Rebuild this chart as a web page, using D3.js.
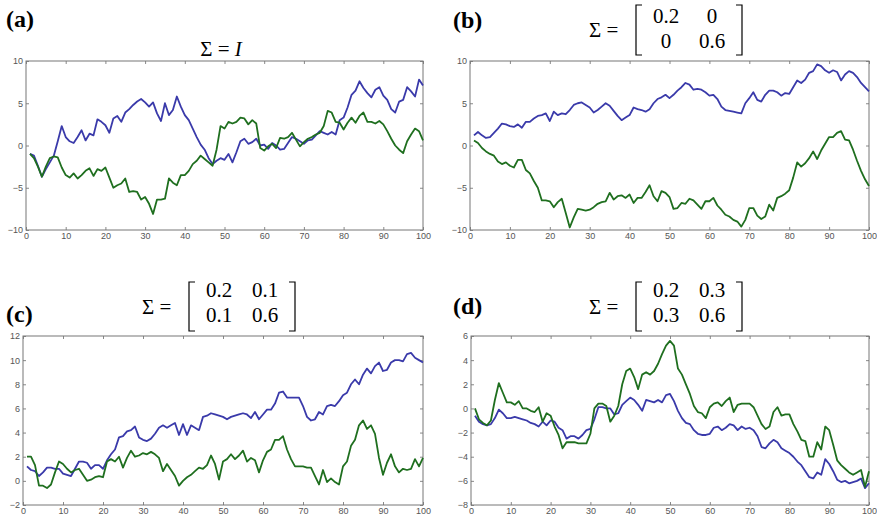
<!DOCTYPE html>
<html>
<head>
<meta charset="utf-8">
<script src="https://cdn.jsdelivr.net/npm/d3@7"></script>
<style>
  body { margin: 0; background: #fff; }
  .tick text { font-family: "Liberation Sans", Arial, sans-serif; font-size: 9px; fill: #555; }
  .tick line { stroke: #888; }
</style>
</head>
<body>
<script>
// time steps 1..100
const steps = d3.range(1, 101);
const xTicks = [0, 10, 20, 30, 40, 50, 60, 70, 80, 90, 100];

// (a) Sigma = I
const blueA = [-1,-1.2,-2.4,-3.7,-2.8,-2,-1.2,0.5,2.3,1,0.5,0.3,1,1.8,0.6,1.4,1.2,3.1,2.8,2.4,
  1.5,3.2,3.5,2.8,3.9,4.3,4.8,5.2,5.5,5.1,4.6,5.1,3.8,2.9,5,3.6,4.2,5.8,4.6,3.6,
  3,2,1,0.1,-0.5,-1.5,-2.2,-1.8,-1.5,-1.7,-1,-2,-0.8,0.5,0.8,0.2,0.4,0.8,0,0.1,
  -0.4,0.3,0,-0.5,-0.4,0.3,1,0.8,0.5,0.2,0.6,0.7,1.2,1.7,1.5,1.3,1.6,1.3,3,3.3,
  4.5,6,6.5,7.6,6.8,6.2,5.7,6.6,6.9,5.9,5.4,4.3,3.9,5.2,5.4,6.9,6.4,5.8,7.8,7.1];
const greenA = [-1,-1.5,-2.5,-3.7,-2.5,-1.5,-1.3,-1.4,-2.6,-3.5,-3.8,-3.3,-3.9,-3.5,-3,-2.7,-3.6,-2.8,-3,-2.6,
  -3.8,-5,-4.7,-4.5,-3.9,-5.5,-5.4,-5.5,-6.4,-6.1,-6.9,-8.1,-6.4,-6.4,-6.3,-3.9,-4.4,-4.7,-3.5,-3.5,
  -3,-2.2,-1.8,-1.2,-1.6,-2,-2.4,-0.5,2.3,2,2.8,2.6,2.8,3.3,3.2,2.5,3,2.6,-0.3,-0.6,
  -0.1,0.2,-0.3,0.9,0.8,1,1.5,0.7,-0.1,0.4,0.8,1,1.3,1.5,2.3,4.1,3.9,2.8,2.7,1.9,
  2.7,3.3,2.7,3.5,3.9,2.8,2.8,2.6,2.9,2.5,1.7,0.8,0,-0.5,-0.9,0.5,1.3,2,1.7,0.6];

// (b) Sigma = [0.2 0; 0 0.6]
const blueB = [1.2,1.6,1.2,0.9,1,1.5,2,2.6,2.5,2.3,2.2,2.5,2.1,2.8,2.8,3.2,3.5,3.6,3.8,2.9,
  4,3.6,3.8,3.7,4.2,4.8,5,5.1,4.8,4.5,3.9,4.2,4.6,5,4.7,4.1,3.5,3,3.3,3.6,
  4.5,4.3,4.2,4,4.3,5,5.5,5.7,6,5.6,6,6.5,6.9,7.4,7.2,6.6,6.7,6.6,6.3,5.9,
  6,5.5,4.6,4.2,4.1,4,3.9,3.8,5,5.6,6.3,5.4,5.2,6,6.5,6.5,6.3,5.9,6.2,6.1,
  6.9,7.7,7.4,7.8,8.6,8.8,9.6,9.4,8.9,8.6,8.9,8.7,7.7,8.4,8.8,8.6,8.1,7.4,6.9,6.4];
const greenB = [0.6,0.3,-0.3,-0.7,-1,-1.2,-1.9,-2.2,-2,-2.4,-2.6,-1.7,-1.7,-2.9,-3.3,-4.2,-5,-6.5,-6.5,-6.6,
  -7.3,-6.7,-6.3,-8,-9.7,-8.5,-7.5,-7.6,-7.7,-7.6,-7.3,-6.9,-6.7,-6.6,-5.6,-6.4,-6,-5.9,-6.2,-5.8,
  -6.8,-6.2,-6.2,-5.5,-4.7,-6,-6.6,-5.4,-5.6,-6.1,-7.5,-7.4,-6.8,-6.9,-6.3,-6.5,-7,-7.5,-6.6,-6.6,
  -6.2,-7.1,-7.6,-8.2,-8.4,-8.8,-9,-9.6,-8.8,-7.4,-7.4,-8.3,-8.7,-8.4,-7,-7.7,-6.2,-6,-5.7,-5.3,
  -3.8,-2,-2.5,-2.1,-1.5,-0.7,-1.6,-0.6,0.2,1,1,1.5,1.7,0.7,0.6,-0.5,-1.8,-3,-4,-4.8];

// (c) Sigma = [0.2 0.1; 0.1 0.6]
const blueC = [1.2,0.9,0.8,0.4,0.7,1.1,1.1,1,1,0.6,0.5,0.4,1,1.6,1.6,1.5,1,1.3,1.3,1,
  1.7,2.2,2.6,3.6,3.7,4.1,4.2,4.5,3.6,3.4,3.3,3.5,3.9,4.4,4.6,4.4,4.6,4.8,3.8,4.7,
  3.8,4.6,4.4,4.2,5.3,5.4,5.6,5.5,5.4,5.3,5.1,5.3,5.4,5.5,5.6,5.5,5.2,5.7,5.1,5.5,
  5.9,5.9,6.4,7.3,7.4,6.9,6.9,6.9,6.9,6.2,5.3,5,5.1,5.7,5.5,6.2,6.3,6.2,6.6,7.1,
  7.3,8,8.4,8,8.8,9.3,8.9,9.5,9.8,9.1,9.2,9.8,10,10,9.9,10.5,10.6,10.2,10,9.8];
const greenC = [2,2,1.3,-0.4,-0.4,-0.6,-0.3,0.7,1.6,1.4,1,0.7,0.9,1,0.5,0,0.1,0.3,0.4,0.3,
  1.6,1.8,1.6,2,1.1,1.9,2.5,2,2.1,2.3,2.2,2.4,2.2,1.9,0.8,1.4,0.9,0.4,-0.4,0,
  0.3,0.5,0.8,1.1,1,1.3,2.1,1.4,0.1,1.6,1.8,2.2,1.8,2.1,2.5,1.6,1.9,1.7,0.7,1.7,
  2.4,2.6,3.4,3.4,3.7,2.6,1.8,1.2,1.2,1.2,1.1,1.1,0.4,-0.3,0.9,-0.1,0.2,-0.1,-0.3,1.2,
  1.6,2.9,3.4,4.6,5,4.3,4.6,3.9,1.9,0.5,1.5,2.2,1.2,0.7,1,0.9,1,1.8,1.2,1.9];

// (d) Sigma = [0.2 0.3; 0.3 0.6]
const blueD = [-0.6,-1.1,-1.3,-1.4,-1.3,-0.8,-0.1,-0.4,-0.8,-0.8,-0.7,-0.8,-0.9,-1,-1.2,-1.3,-1.5,-1.1,-1.4,-1,
  -1.1,-1.6,-1.8,-2.5,-2.3,-2.3,-2.5,-2.2,-1.8,-1.7,-0.9,0.1,0.1,0,0,-0.5,-0.4,0.3,0.6,0.9,
  0.7,0.3,-0.2,0.7,0.6,0.5,0.7,0.5,1.1,1.2,0.6,-0.2,-0.8,-1.2,-1.3,-1.8,-2.1,-2.2,-2.2,-2.1,
  -1.6,-1.5,-1.8,-1.6,-1.3,-1.4,-1.8,-1.5,-1.7,-1.6,-1.8,-2.3,-3.2,-3.3,-2.9,-2.6,-2.8,-3.3,-3.5,-3.7,
  -4,-4.4,-4.7,-5.2,-5.7,-5.8,-5.3,-5.5,-4.2,-4.6,-5.2,-5.9,-6.1,-6,-6.2,-6.1,-6,-5.8,-6.6,-6.2];
const greenD = [0,-0.9,-1.2,-1.4,-1,0.7,2.1,1.3,0.5,0.5,0.3,0.6,0,0,-0.2,-0.3,0.1,-1.1,-0.4,-0.6,
  -1.5,-2.2,-3.3,-2.8,-2.8,-2.8,-2.9,-2.9,-2.9,-2.1,0,0.4,0.4,0.2,-1.1,-0.6,0.2,2,3.1,3.3,
  2.6,1.6,2.8,3,2.8,3.1,3.7,4.5,5.2,5.6,5.2,3.3,2.8,2,1.2,0.2,-0.3,-0.4,-0.8,0.1,
  0.4,0.5,0.2,0.6,0.9,-0.3,0.3,0.4,0.4,0.4,0.1,-0.6,-1.3,-1.7,-1.5,-0.3,0.1,-0.6,-0.5,-0.5,
  -1.3,-1.9,-2.6,-2.7,-4,-4,-2.8,-3.4,-1.5,-1.8,-3,-4.3,-4.7,-5,-5.3,-5.5,-5.3,-5.1,-6.5,-5.2];

const yTicksAB = [-10, -5, 0, 5, 10];
const yTicksC = [-2, 0, 2, 4, 6, 8, 10, 12];
const yTicksD = [-8, -6, -4, -2, 0, 2, 4, 6];

const matrixB = [["0.2", "0"], ["0", "0.6"]];
const matrixC = [["0.2", "0.1"], ["0.1", "0.6"]];
const matrixD = [["0.2", "0.3"], ["0.3", "0.6"]];

const blue = '#3a3aaa';
const green = '#1f6f1f';
const serif = '"Liberation Serif", "DejaVu Serif", serif';
const titleSize = '21px';

const panels = [
    { tag: '(a)', box: [26, 61, 423, 230], yDom: [-10, 10], yTicks: yTicksAB, b: blueA, g: greenA,
      label: [6, 27], title: { x: 221, y: 56 }, matrix: null },
    { tag: '(b)', box: [470, 61, 869, 230], yDom: [-10, 10], yTicks: yTicksAB, b: blueB, g: greenB,
      label: [453, 28], title: { x: 589, top: 5, bottom: 55, rows: [23, 48] }, matrix: matrixB },
    { tag: '(c)', box: [23, 336, 423, 505], yDom: [-2, 12], yTicks: yTicksC, b: blueC, g: greenC,
      label: [6, 322], title: { x: 142, top: 282, bottom: 331, rows: [297, 322] }, matrix: matrixC },
    { tag: '(d)', box: [471, 336, 869, 505], yDom: [-8, 6], yTicks: yTicksD, b: blueD, g: greenD,
      label: [453, 314], title: { x: 589, top: 282, bottom: 331, rows: [297, 322] }, matrix: matrixD }
];

const svg = d3.select('body').append('svg')
    .attr('width', 877)
    .attr('height', 521);

panels.forEach(p => {
    const [x0, y0, x1, y1] = p.box;
    const x = d3.scaleLinear().domain([0, 100]).range([x0, x1]);
    const y = d3.scaleLinear().domain(p.yDom).range([y1, y0]);

    const g = svg.append('g');

    // inward ticks on all four sides, labels only bottom and left
    g.append('g').attr('transform', `translate(0,${y1})`)
        .call(d3.axisBottom(x).tickValues(xTicks).tickSize(-3).tickPadding(3));
    g.append('g').attr('transform', `translate(0,${y0})`)
        .call(d3.axisTop(x).tickValues(xTicks).tickSize(-3).tickFormat(''));
    g.append('g').attr('transform', `translate(${x0},0)`)
        .call(d3.axisLeft(y).tickValues(p.yTicks).tickSize(-3).tickPadding(3));
    g.append('g').attr('transform', `translate(${x1},0)`)
        .call(d3.axisRight(y).tickValues(p.yTicks).tickSize(-3).tickFormat(''));
    g.selectAll('.domain').remove();

    g.append('rect')
        .attr('x', x0).attr('y', y0)
        .attr('width', x1 - x0).attr('height', y1 - y0)
        .attr('fill', 'none').attr('stroke', '#777').attr('stroke-width', 1);

    const line = vals => d3.line()
        .x((d, i) => x(steps[i]))
        .y(d => y(d))(vals);

    g.append('path').attr('d', line(p.b))
        .attr('fill', 'none').attr('stroke', blue).attr('stroke-width', 1.8)
        .attr('stroke-linejoin', 'round');
    g.append('path').attr('d', line(p.g))
        .attr('fill', 'none').attr('stroke', green).attr('stroke-width', 1.8)
        .attr('stroke-linejoin', 'round');

    // panel letter
    svg.append('text')
        .attr('x', p.label[0]).attr('y', p.label[1])
        .style('font-family', serif).style('font-size', '24px').style('font-weight', 'bold')
        .text(p.tag);

    // title
    if (!p.matrix) {
        const t = svg.append('text')
            .attr('x', p.title.x).attr('y', p.title.y)
            .attr('text-anchor', 'middle')
            .style('font-family', serif).style('font-size', titleSize);
        t.append('tspan').text('Σ = ');
        t.append('tspan').style('font-style', 'italic').text('I');
    } else {
        const t = p.title;
        svg.append('text')
            .attr('x', t.x).attr('y', (t.top + t.bottom) / 2 + 7)
            .style('font-family', serif).style('font-size', titleSize)
            .text('Σ =');
        const bl = t.x + 47, br = t.x + 153;
        svg.append('path')
            .attr('d', `M${bl + 6},${t.top} H${bl} V${t.bottom} H${bl + 6}`)
            .attr('fill', 'none').attr('stroke', '#000').attr('stroke-width', 1.2);
        svg.append('path')
            .attr('d', `M${br - 6},${t.top} H${br} V${t.bottom} H${br - 6}`)
            .attr('fill', 'none').attr('stroke', '#000').attr('stroke-width', 1.2);
        const cols = [bl + 30, bl + 76];
        p.matrix.forEach((row, ri) => {
            row.forEach((v, ci) => {
                svg.append('text')
                    .attr('x', cols[ci]).attr('y', t.rows[ri])
                    .attr('text-anchor', 'middle')
                    .style('font-family', serif).style('font-size', titleSize)
                    .text(v);
            });
        });
    }
});
</script>
</body>
</html>
